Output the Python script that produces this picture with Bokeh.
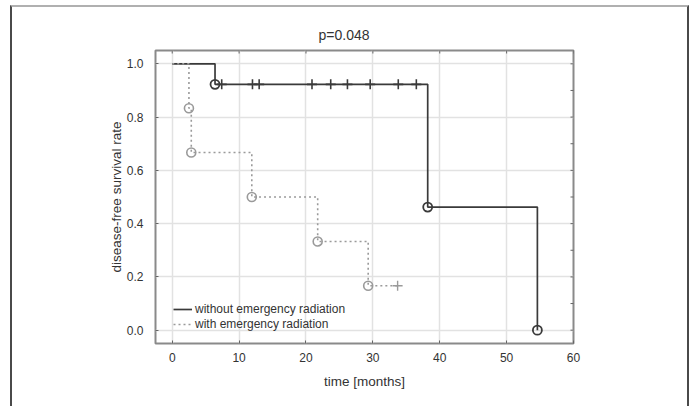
from bokeh.plotting import figure
from bokeh.models import Legend, LegendItem, FixedTicker
from bokeh.embed import file_html
from bokeh.resources import INLINE
import math

# ---- data ----
# group without emergency radiation
wo_times = [0, 6.4, 38.2, 54.6]
wo_surv = [1.0, 0.923, 0.462, 0.0]
wo_event_t = [6.4, 38.2, 54.6]
wo_event_s = [0.923, 0.462, 0.0]
wo_cens_t = [7.4, 12.0, 13.0, 20.9, 23.7, 26.2, 29.6, 33.8, 36.5]
wo_cens_s = [0.923] * 9

# group with emergency radiation
w_times = [0, 2.5, 2.85, 11.9, 21.75, 29.3, 33.7]
w_surv = [1.0, 0.833, 0.667, 0.5, 0.333, 0.167, 0.167]
w_event_t = [2.5, 2.85, 11.9, 21.75, 29.3]
w_event_s = [0.833, 0.667, 0.5, 0.333, 0.167]
w_cens_t = [33.7]
w_cens_s = [0.167]

x_ticks = [0, 10, 20, 30, 40, 50, 60]
y_ticks = [0.0, 0.2, 0.4, 0.6, 0.8, 1.0]
y_minor_ticks = [0.0, 0.1, 0.2, 0.3, 0.4, 0.5, 0.6, 0.7, 0.8, 0.9, 1.0]
y_tick_labels = {0.0: "0.0", 0.2: "0.2", 0.4: "0.4", 0.6: "0.6", 0.8: "0.8", 1.0: "1.0"}
X_MIN, X_MAX = -2.5, 60
Y_MIN, Y_MAX = -0.05, 1.05

FONT = "Liberation Sans"
DARK = "#3a3a3a"
LIGHT = "#9a9a9a"
TXT = "#333333"

p = figure(frame_width=418, frame_height=293,
           min_border_left=143, min_border_right=114,
           min_border_top=43, min_border_bottom=63,
           x_range=(X_MIN, X_MAX), y_range=(Y_MIN, Y_MAX),
           output_backend="svg", toolbar_location=None,
           background_fill_color="white", border_fill_color="white")

p.title.text = "p=0.048"
p.title.align = "left"
p.title.offset = 160
p.title.padding = 3
p.title.standoff = 10
p.title.text_font = FONT
p.title.text_font_size = "14px"
p.title.text_font_style = "normal"
p.title.text_color = TXT

p.outline_line_color = "#8a8a8a"
p.outline_line_width = 2

p.xgrid.ticker = FixedTicker(ticks=x_ticks)
p.ygrid.ticker = FixedTicker(ticks=y_ticks)
p.grid.grid_line_color = "#e2e2e2"
p.grid.grid_line_width = 1.5

for ax in (p.xaxis[0], p.yaxis[0]):
    ax.axis_line_color = None
    ax.major_tick_in = 3
    ax.major_tick_out = 0
    ax.minor_tick_line_color = None
    ax.major_tick_line_color = "#666666"
    ax.major_label_text_font = FONT
    ax.major_label_text_font_size = "12px"
    ax.major_label_text_color = TXT
    ax.axis_label_text_font = FONT
    ax.axis_label_text_font_size = "13.5px"
    ax.axis_label_text_font_style = "normal"
    ax.axis_label_text_color = TXT

p.xaxis.ticker = FixedTicker(ticks=x_ticks)
p.yaxis.ticker = FixedTicker(ticks=y_ticks)
p.yaxis.major_label_overrides = y_tick_labels
p.xaxis.axis_label = "time [months]"
p.yaxis.axis_label = "disease-free survival rate"
p.xaxis.major_label_standoff = 9
p.yaxis.major_label_standoff = 12
p.xaxis.axis_label_standoff = 9
p.yaxis.axis_label_standoff = 0

# inward ticks on the top and right edges (half-clipped dash markers)
p.scatter(x_ticks, [Y_MAX] * len(x_ticks), marker="dash", angle=math.pi / 2, size=6,
          line_color="#666666", line_width=1)
p.scatter([X_MAX] * len(y_minor_ticks), y_minor_ticks, marker="dash", size=6,
          line_color="#666666", line_width=1)

# curves
r_wo = p.step(wo_times, wo_surv, mode="after", line_color=DARK, line_width=1.7)
r_w = p.step(w_times, w_surv, mode="after", line_color=LIGHT, line_width=1.6, line_dash="2 3")

p.scatter(wo_event_t, wo_event_s, marker="circle", size=9, fill_color=None,
          line_color=DARK, line_width=1.8)
p.scatter(wo_cens_t, wo_cens_s, marker="cross", size=10, line_color=DARK, line_width=1.6)
p.scatter(w_event_t, w_event_s, marker="circle", size=9, fill_color=None,
          line_color=LIGHT, line_width=1.6)
p.scatter(w_cens_t, w_cens_s, marker="cross", size=10, line_color=LIGHT, line_width=1.4)

legend = Legend(items=[LegendItem(label="without emergency radiation", renderers=[r_wo]),
                       LegendItem(label="with emergency radiation", renderers=[r_w])],
                location=(18, 12), padding=0, margin=0, spacing=1,
                glyph_width=19, glyph_height=12, label_height=12, label_standoff=3,
                label_text_font=FONT, label_text_font_size="12px", label_text_color=TXT,
                background_fill_alpha=0, border_line_alpha=0)
p.add_layout(legend, "center")

p.styles = {"margin-left": "10px", "margin-top": "5px",
            "border-left": "2px solid #4a4a4a", "border-right": "2px solid #4a4a4a",
            "border-top": "2px solid #b0b0b0"}

open("out.html", "w").write(file_html(p, INLINE))
